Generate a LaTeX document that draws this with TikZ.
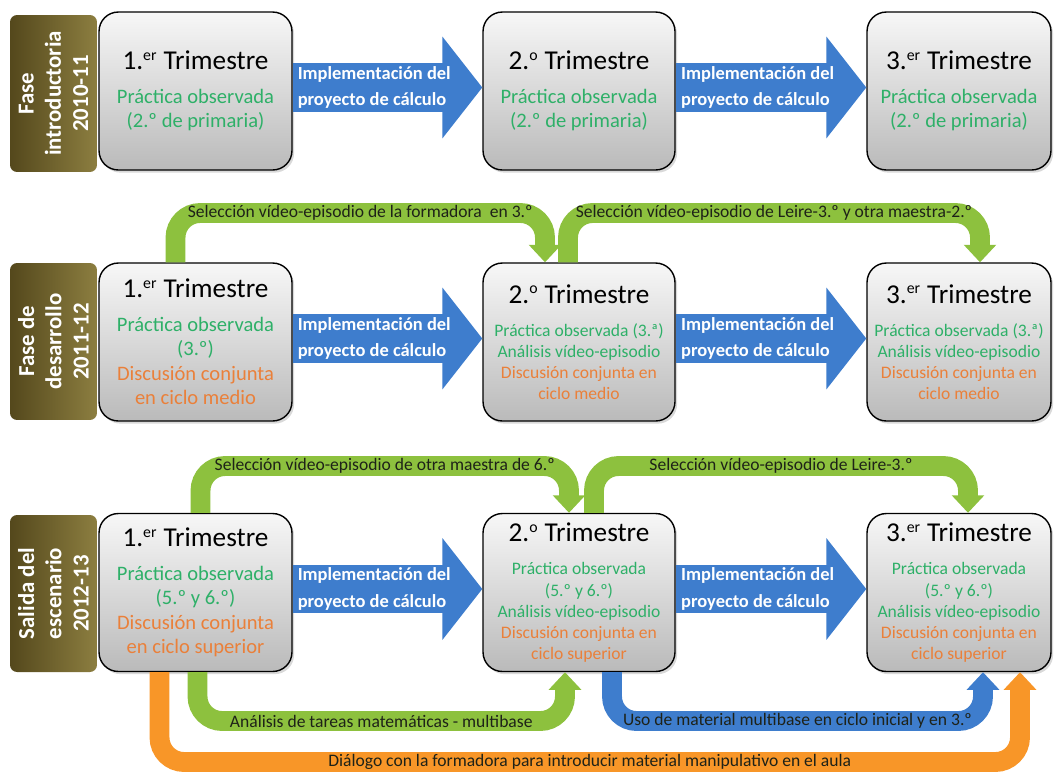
\documentclass[tikz,border=0pt]{standalone}
\usepackage{fontspec}
\setmainfont{Carlito}
\usepackage{tikz}
\usetikzlibrary{arrows.meta,positioning,calc,shadows}
\definecolor{phaseLight}{RGB}{140,126,64}
\definecolor{phaseDark}{RGB}{84,72,28}
\definecolor{boxTop}{RGB}{247,247,247}
\definecolor{boxBottom}{RGB}{186,186,186}
\definecolor{obsGreen}{RGB}{46,176,104}
\definecolor{talkOrange}{RGB}{234,128,58}
\definecolor{implBlue}{RGB}{62,125,205}
\definecolor{selGreen}{RGB}{141,193,62}
\definecolor{dialOrange}{RGB}{248,150,40}
\definecolor{bandInk}{RGB}{30,34,24}
\newcommand{\trimtitle}[2]{{\fontsize{15.5}{18}\selectfont #1.\textsuperscript{\fontsize{9}{9}\selectfont #2}~Trimestre}}
\newcommand{\bigbody}{\fontsize{11.7}{14}\selectfont}
\newcommand{\smallbody}{\fontsize{10}{12}\selectfont}
\newcommand{\obs}[1]{\textcolor{obsGreen}{#1}}
\newcommand{\talk}[1]{\textcolor{talkOrange}{#1}}
\tikzset{
	phasebox/.style={rotate=90,rounded corners=4pt,left color=phaseDark,right color=phaseLight,text=white,align=center,font=\fontsize{13}{15.5}\selectfont\bfseries,minimum width=3.14cm,minimum height=1.74cm,inner sep=0pt},
	trimbox/.style={draw=black,line width=0.8pt,rounded corners=11pt,top color=boxTop,bottom color=boxBottom,align=center,font=\bigbody,minimum width=3.86cm,minimum height=3.16cm,inner sep=0pt,drop shadow={shadow xshift=1.2pt,shadow yshift=-1.5pt,opacity=0.3}},
	smalltext/.style={font=\smallbody},
	implarrow/.style={implBlue,line width=27.8pt,-{Triangle[length=22.7pt,width=56.7pt]}},
	impltext/.style={text=white,align=left,font=\fontsize{10.5}{15}\selectfont\bfseries,inner sep=0pt},
	bandarrow/.style={line width=11.3pt,rounded corners=14pt,-{Triangle[length=10pt,width=18pt]}},
	bandtext/.style={text=bandInk,font=\fontsize{10}{12}\selectfont,inner sep=0pt}
}

\begin{document}
\begin{tikzpicture}[x=0.02cm,y=-0.02cm]
	\useasboundingbox (0,0) rectangle (1054,772);
	% phases
	\node[phasebox] (ph1) at (53.5,93.5) {Fase\\introductoria\\2010-11};
	\node[phasebox] (ph2) at (53.5,341.5) {Fase de\\desarrollo\\2011-12};
	\node[phasebox] (ph3) at (53.5,593.5) {Salida del\\escenario\\2012-13};
	% trimesters
	\node[trimbox] (b11) at (195.5,91) {\trimtitle{1}{er}\\[5pt]\obs{Práctica observada}\\\obs{(2.º de primaria)}};
	\node[trimbox,minimum width=3.84cm] (b12) at (579,91) {\trimtitle{2}{o}\\[5pt]\obs{Práctica observada}\\\obs{(2.º de primaria)}};
	\node[trimbox,minimum width=3.68cm] (b13) at (959,91) {\trimtitle{3}{er}\\[5pt]\obs{Práctica observada}\\\obs{(2.º de primaria)}};
	\node[trimbox] (b21) at (195.5,342) {\trimtitle{1}{er}\\[5pt]\obs{Práctica observada}\\\obs{(3.º)}\\\talk{Discusión conjunta}\\\talk{en ciclo medio}};
	\node[trimbox,smalltext,minimum width=3.84cm] (b22) at (579,342) {\trimtitle{2}{o}\\[7pt]\obs{Práctica observada (3.ª)}\\\obs{Análisis vídeo-episodio}\\\talk{Discusión conjunta en}\\\talk{ciclo medio}};
	\node[trimbox,smalltext,minimum width=3.68cm] (b23) at (959,342) {\trimtitle{3}{er}\\[7pt]\obs{Práctica observada (3.ª)}\\\obs{Análisis vídeo-episodio}\\\talk{Discusión conjunta en}\\\talk{ciclo medio}};
	\node[trimbox] (b31) at (195.5,592.5) {\trimtitle{1}{er}\\[5pt]\obs{Práctica observada}\\\obs{(5.º y 6.º)}\\\talk{Discusión conjunta}\\\talk{en ciclo superior}};
	\node[trimbox,smalltext,minimum width=3.84cm] (b32) at (579,592.5) {\trimtitle{2}{o}\\[7pt]\obs{Práctica observada}\\\obs{(5.º y 6.º)}\\\obs{Análisis vídeo-episodio}\\\talk{Discusión conjunta en}\\\talk{ciclo superior}};
	\node[trimbox,smalltext,minimum width=3.68cm] (b33) at (959,592.5) {\trimtitle{3}{er}\\[7pt]\obs{Práctica observada}\\\obs{(5.º y 6.º)}\\\obs{Análisis vídeo-episodio}\\\talk{Discusión conjunta en}\\\talk{ciclo superior}};
	% implementation arrows
	\draw[implarrow] ([yshift=2pt]b11.east) -- node[impltext,pos=0.43]{Implementación del\\proyecto de cálculo} ([yshift=2pt]b12.west);
	\draw[implarrow] ([yshift=2pt]b12.east) -- node[impltext,pos=0.43]{Implementación del\\proyecto de cálculo} ([yshift=2pt]b13.west);
	\draw[implarrow] ([yshift=2pt]b21.east) -- node[impltext,pos=0.43]{Implementación del\\proyecto de cálculo} ([yshift=2pt]b22.west);
	\draw[implarrow] ([yshift=2pt]b22.east) -- node[impltext,pos=0.43]{Implementación del\\proyecto de cálculo} ([yshift=2pt]b23.west);
	\draw[implarrow] ([yshift=2pt]b31.east) -- node[impltext,pos=0.43]{Implementación del\\proyecto de cálculo} ([yshift=2pt]b32.west);
	\draw[implarrow] ([yshift=2pt]b32.east) -- node[impltext,pos=0.43]{Implementación del\\proyecto de cálculo} ([yshift=2pt]b33.west);
	% band levels and ends
	\coordinate (sel2) at (0,213);
	\coordinate (sel3) at (0,466);
	\coordinate (ana3) at (0,721);
	\coordinate (dia3) at (0,762);
	\coordinate (s21) at ($(b21.north)+(-20,0)$);
	\coordinate (s22) at ($(b22.north)+(-34,0)$);
	\coordinate (t21) at ($(b22.north)+(-11,0)$);
	\coordinate (t22) at ($(b23.north)+(21,0)$);
	\coordinate (s31) at ($(b31.north)+(5,0)$);
	\coordinate (s32) at ($(b32.north)+(-10,0)$);
	\coordinate (t31) at ($(b32.north)+(15,0)$);
	\coordinate (t32) at ($(b33.north)+(9,0)$);
	\coordinate (m1) at ($(b31.south)+(2,0)$);
	\coordinate (m2) at ($(b32.south)+(-14,0)$);
	\coordinate (u1) at ($(b32.south)+(33,0)$);
	\coordinate (u2) at ($(b33.south)+(24,0)$);
	\coordinate (d1) at ($(b31.south)+(-36,0)$);
	\coordinate (d2) at ($(b33.south)+(61,0)$);
	% bent arrows
	\draw[bandarrow,selGreen] (s21) -- (s21 |- sel2) -- node[bandtext]{Selección vídeo-episodio de la formadora\ \ en 3.º} (s22 |- sel2) -- (s22);
	\draw[bandarrow,selGreen] (t21) -- (t21 |- sel2) -- node[bandtext]{Selección vídeo-episodio de Leire-3.º y otra maestra-2.º} (t22 |- sel2) -- (t22);
	\draw[bandarrow,selGreen] (s31) -- (s31 |- sel3) -- node[bandtext]{Selección vídeo-episodio de otra maestra de 6.º} (s32 |- sel3) -- (s32);
	\draw[bandarrow,selGreen] (t31) -- (t31 |- sel3) -- node[bandtext]{Selección vídeo-episodio de Leire-3.º} (t32 |- sel3) -- (t32);
	\draw[bandarrow,dialOrange] (d1) -- (d1 |- dia3) -- node[bandtext]{Diálogo con la formadora para introducir material manipulativo en el aula} (d2 |- dia3) -- (d2);
	\draw[bandarrow,selGreen] (m1) -- (m1 |- ana3) -- node[bandtext]{Análisis de tareas matemáticas - multibase} (m2 |- ana3) -- (m2);
	\draw[bandarrow,implBlue] (u1) -- (u1 |- ana3) -- node[bandtext]{Uso de material multibase en ciclo inicial y en 3.º} (u2 |- ana3) -- (u2);
\end{tikzpicture}
\end{document}
